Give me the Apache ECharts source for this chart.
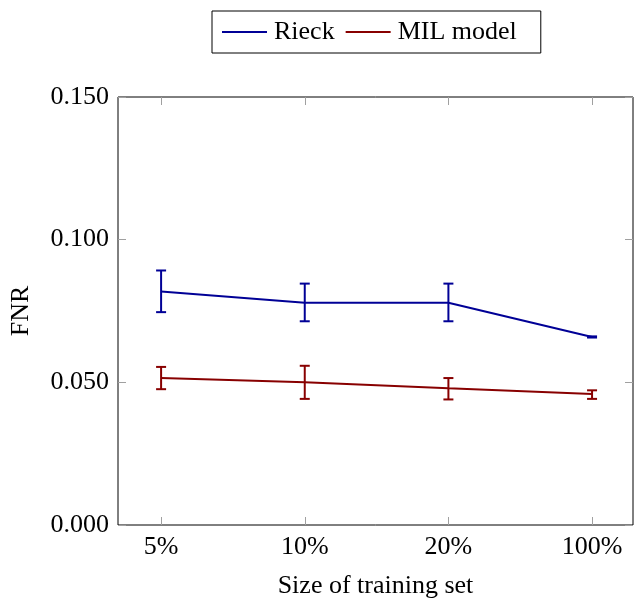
<!DOCTYPE html>
<html>
<head>
<meta charset="utf-8">
<script src="https://cdn.jsdelivr.net/npm/echarts@6/dist/echarts.min.js"></script>
<style>
  html, body { margin: 0; padding: 0; background: #fff; }
  #chart { width: 635px; height: 604px; }
</style>
</head>
<body>
<div id="chart"></div>
<script>
// Training set sizes (x categories)
const categories = ['5%', '10%', '20%', '100%'];

// False negative rate, mean with lower/upper error bounds
const rieckMean = [0.0818, 0.0779, 0.0779, 0.0659];
const rieckLow  = [0.0746, 0.0714, 0.0714, 0.0657];
const rieckHigh = [0.0892, 0.0846, 0.0846, 0.0661];

const milMean = [0.0515, 0.0500, 0.0479, 0.0459];
const milLow  = [0.0476, 0.0442, 0.0440, 0.0442];
const milHigh = [0.0554, 0.0558, 0.0515, 0.0472];

const yTicks = [0, 0.05, 0.10, 0.15];

const FONT = 'Liberation Serif';
const BLUE = '#000096';
const RED = '#880000';
const TICK = '#a0a0a0';

const idx = categories.map((_, i) => i);
const pts = (vals) => vals.map((v, i) => [i, v]);
const bars = (lo, hi) => lo.map((l, i) => [i, l, hi[i]]);

function errorBar(color) {
  return function (params, api) {
    const x = api.value(0);
    const top = api.coord([x, api.value(2)]);
    const bot = api.coord([x, api.value(1)]);
    const w = 5;
    const style = { stroke: color, lineWidth: 2 };
    return {
      type: 'group',
      children: [
        { type: 'line', shape: { x1: top[0], y1: top[1], x2: bot[0], y2: bot[1] }, style },
        { type: 'line', shape: { x1: top[0] - w, y1: top[1], x2: top[0] + w, y2: top[1] }, style },
        { type: 'line', shape: { x1: bot[0] - w, y1: bot[1], x2: bot[0] + w, y2: bot[1] }, style }
      ]
    };
  };
}

const chart = echarts.init(document.getElementById('chart'), null, { renderer: 'canvas' });

const xBase = {
  type: 'value',
  min: -0.3,
  max: 3.285,
  splitLine: { show: false },
  axisLine: { show: false, onZero: false },
  axisTick: { show: true, inside: true, length: 8, customValues: idx, lineStyle: { color: TICK } }
};
const yBase = {
  type: 'value',
  min: 0,
  max: 0.15,
  interval: 0.05,
  splitLine: { show: false },
  axisLine: { show: false, onZero: false },
  axisTick: { show: true, inside: true, length: 8, lineStyle: { color: TICK } }
};

chart.setOption({
  animation: false,
  textStyle: { fontFamily: FONT },
  grid: {
    left: 117, right: 2, top: 97, bottom: 77,
    show: true, borderColor: '#000', borderWidth: 1, backgroundColor: 'transparent'
  },
  legend: {
    left: 212,
    top: 11,
    padding: [8, 24, 8, 10],
    itemGap: 11,
    itemWidth: 45,
    itemHeight: 2,
    icon: 'rect',
    borderColor: '#000',
    borderWidth: 1,
    data: ['Rieck', 'MIL model'],
    textStyle: { fontFamily: FONT, fontSize: 26, color: '#000', padding: [0, 0, 0, 2] }
  },
  xAxis: [
    Object.assign({}, xBase, {
      position: 'bottom',
      name: 'Size of training set',
      nameLocation: 'middle',
      nameGap: 48,
      nameTextStyle: { fontFamily: FONT, fontSize: 26, color: '#000' },
      axisLabel: {
        show: true,
        customValues: idx,
        margin: 9,
        fontFamily: FONT,
        fontSize: 26,
        color: '#000',
        formatter: (v) => categories[Math.round(v)]
      }
    }),
    Object.assign({}, xBase, { position: 'top', axisLabel: { show: false } })
  ],
  yAxis: [
    Object.assign({}, yBase, {
      position: 'left',
      name: 'FNR',
      nameLocation: 'middle',
      nameGap: 84,
      nameTextStyle: { fontFamily: FONT, fontSize: 26, color: '#000' },
      axisLabel: {
        show: true,
        margin: 9,
        fontFamily: FONT,
        fontSize: 26,
        color: '#000',
        customValues: yTicks,
        formatter: (v) => v.toFixed(3)
      }
    }),
    Object.assign({}, yBase, { position: 'right', axisLabel: { show: false } })
  ],
  series: [
    {
      name: 'Rieck',
      type: 'line',
      data: pts(rieckMean),
      symbol: 'none',
      lineStyle: { color: BLUE, width: 2 },
      itemStyle: { color: BLUE }
    },
    {
      name: 'MIL model',
      type: 'line',
      data: pts(milMean),
      symbol: 'none',
      lineStyle: { color: RED, width: 2 },
      itemStyle: { color: RED }
    },
    {
      type: 'custom',
      data: bars(rieckLow, rieckHigh),
      renderItem: errorBar(BLUE),
      encode: { x: 0, y: [1, 2] },
      z: 3
    },
    {
      type: 'custom',
      data: bars(milLow, milHigh),
      renderItem: errorBar(RED),
      encode: { x: 0, y: [1, 2] },
      z: 3
    }
  ]
});
</script>
</body>
</html>
